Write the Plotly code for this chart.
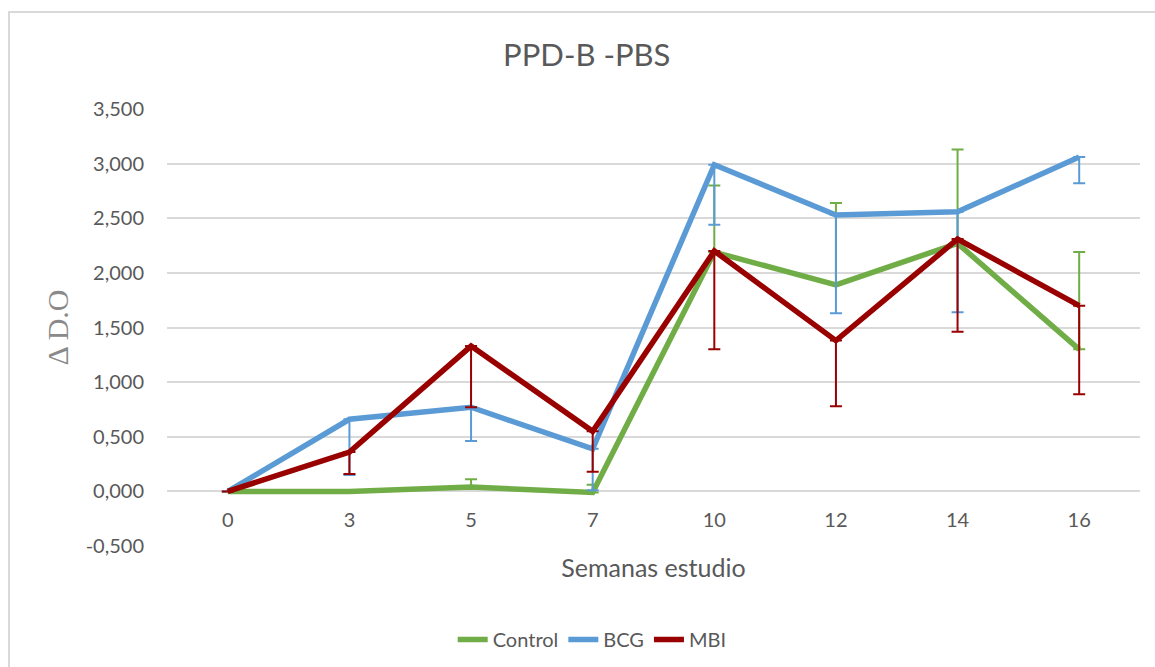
import plotly.graph_objects as go

weeks = ["0", "3", "5", "7", "10", "12", "14", "16"]

control = [0.0, 0.0, 0.04, -0.01, 2.19, 1.89, 2.27, 1.30]
control_err_plus = [0.0, 0.0, 0.07, 0.07, 0.61, 0.75, 0.86, 0.89]

bcg = [0.0, 0.66, 0.77, 0.39, 2.99, 2.53, 2.56, 3.06]
bcg_err_minus = [0.0, 0.51, 0.31, 0.38, 0.55, 0.90, 0.92, 0.24]

mbi = [0.0, 0.36, 1.33, 0.55, 2.20, 1.38, 2.31, 1.70]
mbi_err_minus = [0.0, 0.20, 0.56, 0.37, 0.90, 0.60, 0.85, 0.81]

ytick_vals = [-0.5, 0.0, 0.5, 1.0, 1.5, 2.0, 2.5, 3.0, 3.5]
ytick_text = ["-0,500", "0,000", "0,500", "1,000", "1,500", "2,000", "2,500", "3,000", "3,500"]

zeros = [0.0] * len(weeks)
GREEN, BLUE, RED = "#70ad47", "#5b9bd5", "#990000"
TXT = "#595959"
FONT = "Lato"

fig = go.Figure()
fig.add_trace(go.Scatter(
    x=weeks, y=control, name="Control", mode="lines",
    line=dict(color=GREEN, width=5.5),
    error_y=dict(type="data", symmetric=False, array=control_err_plus, arrayminus=zeros,
                 color=GREEN, thickness=2, width=6),
))
fig.add_trace(go.Scatter(
    x=weeks, y=bcg, name="BCG", mode="lines",
    line=dict(color=BLUE, width=5.5),
    error_y=dict(type="data", symmetric=False, array=zeros, arrayminus=bcg_err_minus,
                 color=BLUE, thickness=2, width=6),
))
fig.add_trace(go.Scatter(
    x=weeks, y=mbi, name="MBI", mode="lines",
    line=dict(color=RED, width=5.5),
    error_y=dict(type="data", symmetric=False, array=zeros, arrayminus=mbi_err_minus,
                 color=RED, thickness=2, width=6),
))

fig.update_layout(
    width=1155, height=667,
    margin=dict(l=167, r=15, t=109, b=121, autoexpand=False),
    paper_bgcolor="white", plot_bgcolor="white",
    font=dict(family=FONT, color=TXT, size=20),
    title=dict(text="PPD-B -PBS", x=0.508, xref="container", xanchor="center",
               y=1 - 55 / 667, yref="container", yanchor="middle",
               font=dict(family=FONT, size=31, color=TXT)),
    xaxis=dict(type="category", categoryorder="array", categoryarray=weeks,
               range=[-0.5, 7.5], anchor="free", position=0.125, automargin=False,
               showgrid=False, zeroline=False, showline=False, ticks="",
               ticklabelstandoff=15, tickfont=dict(size=20, color=TXT),
               title=dict(text="Semanas estudio", font=dict(size=25, color=TXT), standoff=29)),
    yaxis=dict(range=[-0.5, 3.5], tickvals=ytick_vals, ticktext=ytick_text, automargin=False,
               showgrid=True, gridcolor="#d9d9d9", gridwidth=1.5,
               zeroline=False, showline=False, ticks="",
               ticklabelstandoff=22, tickfont=dict(size=20, color=TXT),
               title=dict(text="Δ D.O", font=dict(family="Liberation Serif", size=30, color="#8a8a8a"),
                          standoff=8)),
    legend=dict(orientation="h", x=0.437, xanchor="center", y=-0.214, yanchor="middle",
                font=dict(size=20, color=TXT), bgcolor="rgba(0,0,0,0)"),
    showlegend=True,
)

fig.add_shape(type="rect", xref="paper", yref="paper",
              x0=(9 - 167) / 973, x1=1.2, y0=-0.6, y1=(546 - 12) / 437,
              line=dict(color="#d9d9d9", width=2), fillcolor="rgba(0,0,0,0)", layer="below")

fig.write_html("out.html", config={"displayModeBar": False},
               post_script="document.body.style.margin='0px';")
